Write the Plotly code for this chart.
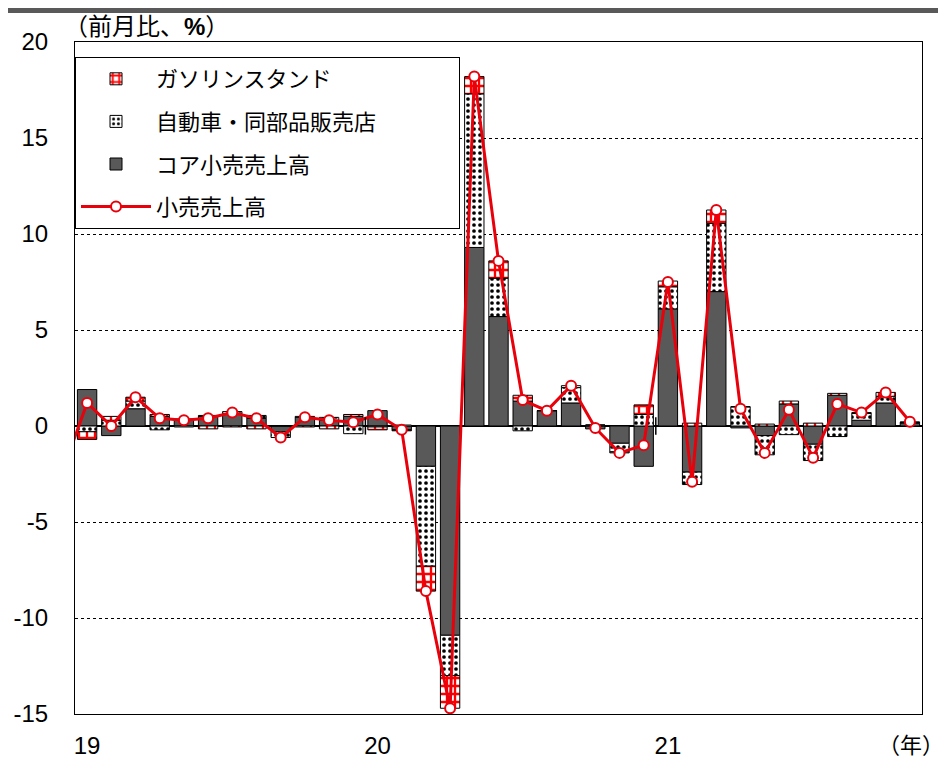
import plotly.graph_objects as go

months = ["2018-12"] + [f"{y}-{m:02d}" for y in (2019, 2020, 2021) for m in range(1, 13)][:35]

core = [None,
        1.9, -0.5, 0.9, 0.5, 0.35, 0.5, 0.65, 0.4, -0.3, 0.45, 0.3, 0.5,
        0.8, -0.2, -2.1, -10.9, 9.3, 5.7, 1.3, 0.8, 1.2, -0.15, -0.9, -2.1,
        6.1, -2.4, 7.0, -0.1, -0.5, 1.15, -0.95, 1.6, 0.3, 1.2, 0.15]
auto = [None,
        -0.3, 0.3, 0.4, -0.2, -0.05, 0.05, 0.1, 0.15, -0.3, 0.05, 0.15, -0.4,
        -0.05, 0.05, -5.2, -2.1, 8.0, 2.0, -0.25, 0.0, 0.8, 0.05, -0.45, 0.6,
        1.15, -0.65, 3.55, 1.0, -1.0, -0.45, -0.85, -0.55, 0.35, 0.35, 0.05]
gas = [None,
       -0.4, 0.2, 0.2, 0.1, 0.0, -0.15, -0.05, -0.15, 0.0, -0.05, -0.15, 0.1,
       -0.15, -0.05, -1.3, -1.7, 0.9, 0.9, 0.3, 0.0, 0.1, 0.0, -0.05, 0.5,
       0.3, 0.15, 0.7, 0.0, 0.1, 0.15, 0.15, 0.1, 0.05, 0.2, 0.0]
retail = [-2.3,
          1.2, 0.0, 1.5, 0.4, 0.3, 0.4, 0.7, 0.4, -0.6, 0.45, 0.3, 0.2,
          0.6, -0.2, -8.6, -14.7, 18.2, 8.6, 1.35, 0.8, 2.1, -0.1, -1.4, -1.0,
          7.5, -2.9, 11.25, 0.9, -1.4, 0.85, -1.65, 1.15, 0.7, 1.75, 0.22]

names = ["コア小売売上高", "自動車・同部品販売店", "ガソリンスタンド", "小売売上高"]
year_ticks = [m for m in months if m.endswith("-01")]
year_text = [m[2:4] for m in year_ticks]
y_ticks = [-15, -10, -5, 0, 5, 10, 15, 20]
y_text = [str(v) for v in y_ticks]

FONT = "Liberation Sans, Arial, Noto Sans CJK JP"
RED = "#E8000B"
PAD = "\u3000" * 3 + "\u2002"  # widen the legend box

fig = go.Figure()
fig.add_trace(go.Bar(
    x=months, y=core, name=names[0], legendrank=3, legendgroup="c",
    marker=dict(color="#595959", line=dict(color="black", width=1)),
))
fig.add_trace(go.Bar(
    x=months, y=auto, name=names[1] + PAD, legendrank=2, legendgroup="a",
    marker=dict(color="white", line=dict(color="black", width=1),
                pattern=dict(shape=".", fgcolor="black", bgcolor="white",
                             size=6, solidity=0.3, fillmode="replace")),
))
fig.add_trace(go.Bar(
    x=months, y=gas, name=names[2], legendrank=1, legendgroup="g",
    marker=dict(color="white", line=dict(color="black", width=1),
                pattern=dict(shape="+", fgcolor="#FF0000", bgcolor="white",
                             size=8, solidity=0.5, fillmode="replace")),
))
fig.add_trace(go.Scatter(
    x=months, y=retail, name=names[3], legendrank=4, legendgroup="r",
    mode="lines+markers", cliponaxis=True,
    line=dict(color=RED, width=3),
    marker=dict(symbol="circle", size=10, color="white",
                line=dict(color=RED, width=2)),
))

# cross tick marks on the zero line at year boundaries
for ym in year_ticks[1:]:
    b = months.index(ym) - 0.5
    fig.add_shape(type="line", xref="x", yref="y", x0=b, x1=b, y0=-0.45, y1=0.45,
                  line=dict(color="black", width=1.5), layer="above")

# dark header band
fig.add_shape(type="rect", xref="paper", yref="paper",
              x0=-0.1, x1=1.1, y0=701 / 672, y1=1.2,
              fillcolor="#595959", line=dict(width=0), layer="above")

fig.add_annotation(text="（前月比、<b>%</b>）", xref="paper", yref="paper",
                   x=-13 / 847, y=(706 - 19) / 672, xanchor="left", yanchor="middle",
                   showarrow=False, font=dict(size=24, color="black", family=FONT))
fig.add_annotation(text="（年）", xref="paper", yref="paper",
                   x=1 + 24 / 847, y=-31 / 672, xanchor="right", yanchor="middle",
                   showarrow=False, font=dict(size=22, color="black", family=FONT))

fig.update_layout(
    width=938, height=750,
    margin=dict(l=67, r=24, t=34, b=44, autoexpand=False),
    paper_bgcolor="white", plot_bgcolor="white",
    barmode="relative", bargap=0.2,
    font=dict(family=FONT, size=22, color="black"),
    legend=dict(x=0, y=(706 - 49) / 672, xanchor="left", yanchor="top",
                bgcolor="white", bordercolor="black", borderwidth=1,
                traceorder="grouped", tracegroupgap=11, itemwidth=70,
                font=dict(size=22, family=FONT)),
    showlegend=True,
)
fig.update_xaxes(
    type="category", range=[0.5, len(months) - 0.5], autorange=False,
    tickmode="array", tickvals=year_ticks, ticktext=year_text,
    showgrid=False, ticks="", showline=True, linecolor="black", linewidth=1,
    mirror=True, ticklabelstandoff=10, tickfont=dict(size=24), automargin=False,
)
fig.update_yaxes(
    range=[-15, 20], tickmode="array", tickvals=y_ticks, ticktext=y_text,
    showgrid=True, gridcolor="black",
    griddash="dot", gridwidth=1, zeroline=True, zerolinecolor="black",
    zerolinewidth=1.5, showline=True, linecolor="black", linewidth=1,
    mirror=True, ticks="", ticklabelstandoff=21, tickfont=dict(size=24),
    automargin=False,
)

fig.write_html("out.html")
